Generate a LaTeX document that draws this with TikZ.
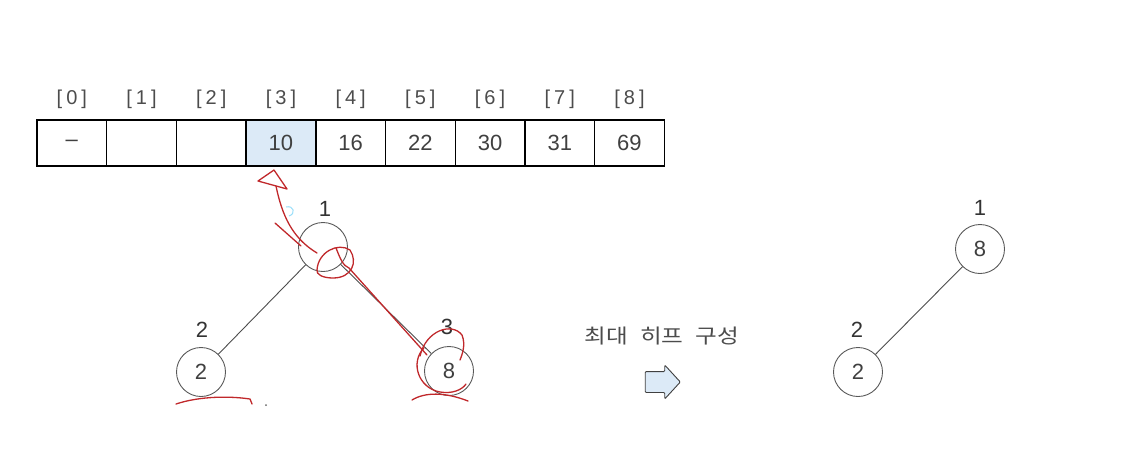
\documentclass[tikz,border=0pt]{standalone}
\usepackage{fontspec}
\setmainfont{Liberation Sans}
\newfontfamily\krfont[FakeStretch=1.18]{Noto Sans CJK KR}
\usetikzlibrary{
    arrows.meta,
    positioning,
    shapes.arrows
}
\definecolor{inkred}{HTML}{C0282B}
\definecolor{cellblue}{HTML}{DCEAF7}
\newcommand{\idx}[1]{[\hspace{4pt}#1\hspace{4pt}]}

\begin{document}
\begin{tikzpicture}[
        x=1pt, y=-1pt,
        every node/.style={font=\fontsize{22}{22}\selectfont, text=black!75},
        cell/.style={
            rectangle,
            draw=black,
            line width=1.4pt,
            minimum width=69.7pt,
            minimum height=46pt,
            inner sep=0pt,
            font=\fontsize{22}{22}\selectfont
        },
        index/.style={font=\fontsize{20}{20}\selectfont, text=black!70},
        heapnode/.style={
            circle,
            draw=black!65,
            line width=0.9pt,
            minimum size=49pt,
            inner sep=0pt,
            fill=white
        },
        level/.style={font=\fontsize{22}{22}\selectfont, text=black!80},
        edge/.style={draw=black!70, line width=0.9pt},
        blockarrow/.style={
            single arrow,
            draw=black!75,
            fill=cellblue,
            line width=0.9pt,
            minimum height=35pt,
            minimum width=0pt,
            single arrow head extend=6.5pt,
            single arrow tip angle=95,
            rounded corners=1pt,
            inner xsep=0pt,
            inner ysep=10pt
        },
        scribble/.style={draw=inkred, line width=1.3pt, line cap=round, line join=round}
    ]
        \useasboundingbox (0,0) rectangle (1129,472);

        % array
        \foreach \i/\v in {0/--,1/,2/,3/10,4/16,5/22,6/30,7/31,8/69} {
            \node[cell] (c\i) at ({71.85+69.7*\i},143) {\v};
            \node[index] (i\i) at ({71.85+69.7*\i},99) {\idx{\i}};
        }
        \node[cell, fill=cellblue] at (c3) {10};

        % tree before
        \node[heapnode] (root) at (323,247) {};
        \node[heapnode] (left) at (201,372) {2};
        \node[heapnode] (right) at (449,371) {8};
        \node[level] (lroot) at (325,209) {1};
        \node[level] (lleft) at (202,330) {2};
        \node[level] (lright) at (447,327) {3};
        \draw[edge] (root) -- (left);
        \draw[edge] (root) -- (right);

        % step
        \node[font=\krfont\fontsize{20}{20}\selectfont, text=black!70] (step) at (662,336)
            {최대\hspace{12pt}히프\hspace{12pt}구성};
        \node[blockarrow] (go) at (658,382) {};

        % tree after
        \node[heapnode] (newroot) at (980,249) {8};
        \node[heapnode] (newleft) at (858,372) {2};
        \node[level] (lnewroot) at (980,208) {1};
        \node[level] (lnewleft) at (857,330) {2};
        \draw[edge] (newroot) -- (newleft);

        % hand marks
        \draw[scribble] (258,181) -- (274,170) -- (287,189) -- cycle;
        \draw[scribble] (276,186) .. controls (282,215) and (292,238) .. (317,253);
        \draw[scribble] (275,223) -- (301,246);
        \draw[scribble] (317,270) .. controls (318,252) and (338,242) .. (350,250)
            .. controls (358,262) and (352,278) .. (333,278)
            .. controls (322,278) and (316,274) .. (317,270);
        \draw[scribble] (336,248) .. controls (340,258) and (343,266) .. (349,268);
        \draw[scribble] (349,268) -- (427,355);
        \draw[scribble] (420,356) .. controls (426,330) and (452,322) .. (462,335)
            .. controls (466,345) and (462,355) .. (460,360);
        \draw[scribble] (424,348) .. controls (410,362) and (418,388) .. (440,392)
            .. controls (452,394) and (462,390) .. (466,384);
        \draw[scribble] (176,404) .. controls (200,396) and (230,396) .. (250,399) -- (252,404);
        \draw[scribble] (412,400) .. controls (425,392) and (445,392) .. (468,401);
        \draw[draw=cyan!40, line width=1pt] (286,207) .. controls (294,205) and (296,214) .. (289,216);
        \fill[black!60] (266,405) circle (1pt);
    \end{tikzpicture}
\end{document}
